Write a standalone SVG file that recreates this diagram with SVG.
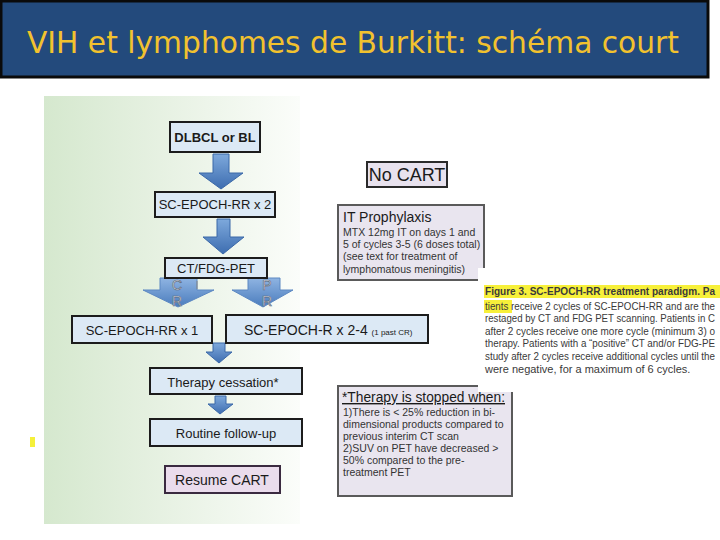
<svg xmlns="http://www.w3.org/2000/svg" width="720" height="540" viewBox="0 0 720 540">
<defs>
<linearGradient id="panel" x1="0" y1="0" x2="1" y2="0">
<stop offset="0" stop-color="#d5e8ce"/>
<stop offset="0.5" stop-color="#e8f2e4"/>
<stop offset="1" stop-color="#fbfdfa"/>
</linearGradient>
<linearGradient id="arr" x1="0" y1="0" x2="0" y2="1">
<stop offset="0" stop-color="#7ea9dc"/>
<stop offset="1" stop-color="#3d6db0"/>
</linearGradient>
<linearGradient id="bigarr" x1="0" y1="0" x2="0" y2="1">
<stop offset="0" stop-color="#8fb4e2"/>
<stop offset="1" stop-color="#4a7cbd"/>
</linearGradient>
<style>
.box{fill:#dce9f5;stroke:#1c1c1c;stroke-width:2}
.pbox{fill:#e8e2ee;stroke:#2a2a2a;stroke-width:2}
.gbox{fill:#e9e5ef;stroke:#5a5a5a;stroke-width:2}
.t{font-family:"Liberation Sans",Arial,sans-serif;fill:#1a1a1a}
.s{font-family:"Liberation Sans",Arial,sans-serif;fill:#333;font-size:10.5px}
.c{font-family:"Liberation Sans",Arial,sans-serif;fill:#3a3a3a;font-size:11px}
.a{fill:url(#arr);stroke:#3a68a8;stroke-width:1}
.ba{fill:url(#bigarr);stroke:#5c88c2;stroke-width:1}
.l{font-family:"Liberation Sans",Arial,sans-serif;font-size:14px;fill:#ffffff;stroke:#5d6b80;stroke-width:0.7;text-anchor:middle}
</style>
</defs>
<rect width="720" height="540" fill="#ffffff"/>
<g id="title">
<rect x="1" y="1" width="707" height="76" fill="#234a7c" stroke="#0a0a0a" stroke-width="3"/>
<text x="353" y="53" font-family="'DejaVu Sans',sans-serif" font-size="30" fill="#f2c22e" text-anchor="middle" textLength="652" lengthAdjust="spacingAndGlyphs">VIH et lymphomes de Burkitt: schéma court</text>
</g>
<g id="panel">
<rect x="44" y="96" width="256" height="428" fill="url(#panel)"/>
<rect x="30" y="437" width="5" height="10" fill="#f5f03a"/>
</g>
<g id="connectors">
<polygon class="a" points="213,154 229,154 229,173 243,173 221,189 199,173 213,173"/>
<polygon class="a" points="217,219 230,219 230,237 244,237 223,254 203,237 217,237"/>
<polygon class="ba" points="160,278 197,278 197,290 214,290 178,307 143,290 160,290"/>
<polygon class="ba" points="248,278 280,278 280,290 293,290 263,307 232,290 248,290"/>
<line x1="197" y1="281" x2="197" y2="289" stroke="#8a8a8a" stroke-width="1"/>
<text class="l" x="177" y="290">C</text>
<text class="l" x="177" y="306">R</text>
<text class="l" x="267" y="290">P</text>
<text class="l" x="267" y="306">R</text>
<polygon class="a" points="213,343 225,343 225,352 232,352 219,363 206,352 213,352"/>
<polygon class="a" points="215,396 226,396 226,404 233,404 220,414 208,404 215,404"/>
</g>
<g id="n-dlbcl">
<rect class="box" x="170" y="122" width="90" height="30"/>
<text class="t" x="215" y="142" font-size="13" font-weight="bold" text-anchor="middle">DLBCL or BL</text>
</g>
<g id="n-epoch2">
<rect class="box" x="155" y="192" width="120" height="25"/>
<text class="t" x="215" y="209" font-size="13" text-anchor="middle">SC-EPOCH-RR x 2</text>
</g>
<g id="n-ctpet">
<rect class="box" x="165" y="258" width="102" height="20"/>
<text class="t" x="216" y="273" font-size="13" text-anchor="middle">CT/FDG-PET</text>
</g>
<g id="n-epoch1">
<rect class="box" x="72" y="316" width="140" height="27"/>
<text class="t" x="142" y="335" font-size="13" text-anchor="middle">SC-EPOCH-RR x 1</text>
</g>
<g id="n-epochr">
<rect class="box" x="226" y="315" width="202" height="28"/>
<text class="t" x="244" y="335" font-size="14">SC-EPOCH-R x 2-4 <tspan font-size="8">(1 past CR)</tspan></text>
</g>
<g id="n-cessation">
<rect class="box" x="150" y="368" width="152" height="26"/>
<text class="t" x="223" y="387" font-size="13" text-anchor="middle">Therapy cessation*</text>
</g>
<g id="n-followup">
<rect class="box" x="150" y="419" width="152" height="27"/>
<text class="t" x="226" y="438" font-size="13" text-anchor="middle">Routine follow-up</text>
</g>
<g id="n-resume">
<rect x="165" y="466" width="115" height="27" fill="#eadcec" stroke="#3a2a40" stroke-width="2"/>
<text class="t" x="222" y="485" font-size="14" text-anchor="middle">Resume CART</text>
</g>
<g id="n-nocart">
<rect class="pbox" x="367" y="162" width="80" height="25"/>
<text class="t" x="407" y="181" font-size="18" text-anchor="middle">No CART</text>
</g>
<g id="n-itproph">
<rect class="gbox" x="338" y="205" width="146" height="75"/>
<text class="t" x="343" y="222" font-size="14" fill="#222">IT Prophylaxis</text>
<text class="s" x="343" y="236">MTX 12mg IT on days 1 and</text>
<text class="s" x="343" y="248">5 of cycles 3-5 (6 doses total)</text>
<text class="s" x="343" y="260">(see text for treatment of</text>
<text class="s" x="343" y="273">lymphomatous meningitis)</text>
</g>
<g id="n-stopped">
<rect class="gbox" x="338" y="386" width="174" height="110"/>
<text class="t" x="342" y="402" font-size="14" fill="#222" text-decoration="underline" textLength="163" lengthAdjust="spacingAndGlyphs">*Therapy is stopped when:</text>
<text class="s" x="343" y="416">1)There is &lt; 25% reduction in bi-</text>
<text class="s" x="343" y="428">dimensional products compared to</text>
<text class="s" x="343" y="440">previous interim CT scan</text>
<text class="s" x="343" y="452">2)SUV on PET have decreased &gt;</text>
<text class="s" x="343" y="464">50% compared to the pre-</text>
<text class="s" x="343" y="476">treatment PET</text>
</g>
<g id="caption">
<rect x="478" y="268" width="242" height="124" fill="#ffffff"/>
<rect x="484" y="285" width="236" height="13" fill="#f7f03a"/>
<rect x="484" y="300" width="28" height="13" fill="#f7f03a"/>
<text class="c" x="485" y="295" font-weight="bold" textLength="230" lengthAdjust="spacingAndGlyphs">Figure 3. SC-EPOCH-RR treatment paradigm. Pa</text>
<text class="c" x="485" y="310" textLength="230" lengthAdjust="spacingAndGlyphs">tients receive 2 cycles of SC-EPOCH-RR and are the</text>
<text class="c" x="485" y="322" textLength="230" lengthAdjust="spacingAndGlyphs">restaged by CT and FDG PET scanning. Patients in C</text>
<text class="c" x="485" y="335" textLength="230" lengthAdjust="spacingAndGlyphs">after 2 cycles receive one more cycle (minimum 3) o</text>
<text class="c" x="485" y="347" textLength="230" lengthAdjust="spacingAndGlyphs">therapy. Patients with a “positive” CT and/or FDG-PE</text>
<text class="c" x="485" y="360" textLength="230" lengthAdjust="spacingAndGlyphs">study after 2 cycles receive additional cycles until the</text>
<text class="c" x="485" y="373">were negative, for a maximum of 6 cycles.</text>
</g>
</svg>
